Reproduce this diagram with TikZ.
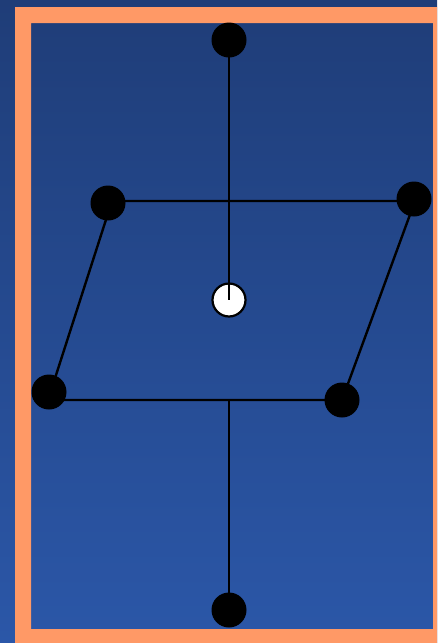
\documentclass[tikz,border=0pt]{standalone}
\begin{document}
\begin{tikzpicture}[x=1pt,y=-1pt,
  dot/.style={circle,fill=black,draw=none,minimum size=35pt,inner sep=0pt},
  hole/.style={circle,fill=white,draw=black,line width=2.2pt,minimum size=33pt,inner sep=0pt},
  edge/.style={draw=black,line width=2.4pt}]
\definecolor{bgtop}{RGB}{31,61,120}
\definecolor{bgbot}{RGB}{43,87,168}
\definecolor{frameor}{RGB}{255,153,102}
\useasboundingbox (0,0) rectangle (437,643);
\shade[top color=bgtop,bottom color=bgbot] (0,0) rectangle (437,643);
% frame
\fill[frameor,even odd rule] (15,7) rectangle (437,643) (31,23) rectangle (433,629);
% circles
\node[dot] (top) at (229,40) {};
\node[dot] (ul) at (108,203) {};
\node[dot] (ur) at (414,199) {};
\node[hole] (ctr) at (229,300) {};
\node[dot] (ll) at (49,392) {};
\node[dot] (lr) at (342,400) {};
\node[dot] (bot) at (229,610) {};
% corners of the parallelogram
\coordinate (tl) at (112,201);
\coordinate (tr) at (415,201);
\coordinate (br) at (342,400);
\coordinate (bl) at (48,400);
\coordinate (bm) at (229,400);
% connectors
\draw[edge] (top.center) -- (ctr.center);
\draw[edge] (tl) -- (tr) -- (br) -- (bl) -- cycle;
\draw[edge] (bm) -- (bot.center);
\end{tikzpicture}
\end{document}
